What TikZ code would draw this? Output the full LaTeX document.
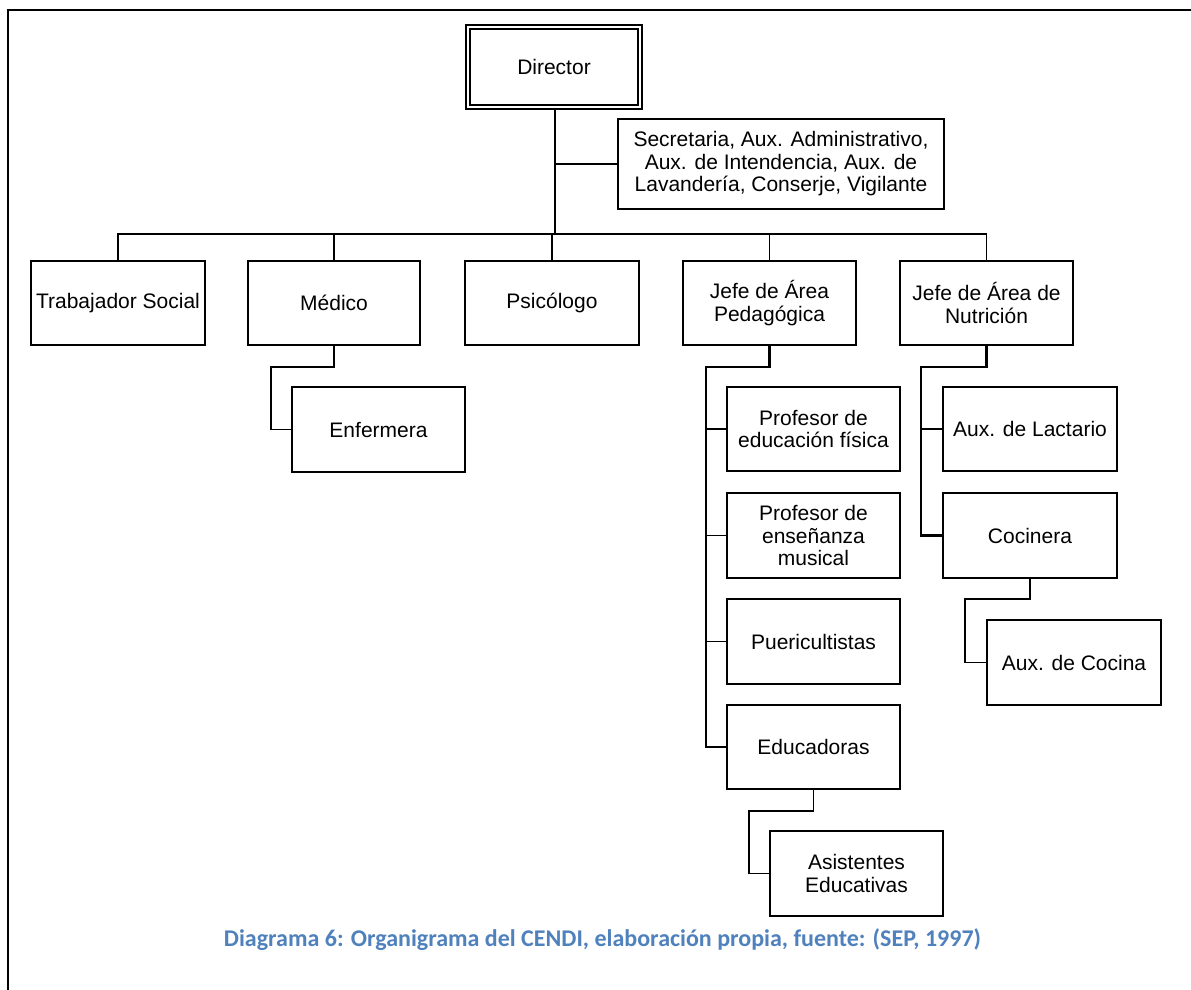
\documentclass[tikz,border=0pt]{standalone}
\usepackage{fontspec}
\setmainfont{Liberation Sans}
\newfontfamily\capfont{Carlito}
\usetikzlibrary{calc}
\definecolor{capblue}{RGB}{79,129,189}
\tikzset{
  box/.style={draw, line width=1.5pt, align=center, inner sep=2pt,
    font=\fontsize{21}{22.5}\selectfont, minimum width=173pt, minimum height=84pt},
  conn/.style={line width=1.7pt},
  spine/.style={line width=2.2pt},
}
\begin{document}
\begin{tikzpicture}[x=1pt,y=-1pt]
\useasboundingbox (0,0) rectangle (1191,990);
% frame
\draw[line width=1.5pt] (8,990) -- (8,10) -- (1191,10);

% nodes
\node[box, line width=1.2pt, minimum width=176pt, minimum height=84pt] (dir) at (554,67) {Director};
\draw[line width=2pt] ($(dir.south west)+(5,-5)$) rectangle ($(dir.north east)+(-5,5)$);
\node[box, minimum width=326pt, minimum height=90pt] (sec) at (781,164)
  {Secretaria, Aux. Administrativo,\\Aux. de Intendencia, Aux. de\\Lavandería, Conserje, Vigilante};

\node[box, minimum width=174pt] (ts) at (118,303) {Trabajador Social};
\node[box, minimum width=172pt] (med) at (334,303) {Médico};
\node[box, minimum width=174pt] (psi) at (552,303) {Psicólogo};
\node[box] (jp) at (769.5,303) {Jefe de Área\\Pedagógica};
\node[box] (jn) at (986.5,303) {Jefe de Área de\\Nutrición};

\node[box, minimum height=85pt] (enf) at (378.5,429.5) {Enfermera};

\node[box] (pef) at (813.5,429) {Profesor de\\educación física};
\node[box, minimum height=85pt] (pem) at (813.5,535.5) {Profesor de\\enseñanza\\musical};
\node[box, minimum height=85pt] (pue) at (813.5,641.5) {Puericultistas};
\node[box] (edu) at (813.5,747) {Educadoras};
\node[box, minimum height=85pt] (asi) at (856.5,873.5) {Asistentes\\Educativas};

\node[box, minimum width=174pt] (lac) at (1030,429) {Aux. de Lactario};
\node[box, minimum width=174pt, minimum height=85pt] (coc) at (1030,535.5) {Cocinera};
\node[box, minimum width=174pt, minimum height=85pt] (auc) at (1074,662.5) {Aux. de Cocina};

% coordinates
\coordinate (bus) at (555,234);
\coordinate (trunktop) at (555,109);
\coordinate (mspine) at (271,367);
\coordinate (pspine) at (706,367);
\coordinate (nspine) at (921,367);
\coordinate (cspine) at (965,599);
\coordinate (espine) at (749,811);

% connectors
\draw[line width=2.6pt] (trunktop) -- (bus);
\draw[conn] (sec.west) -- (sec.west -| bus);
\draw[conn] (ts.north) |- (bus);
\draw[conn] (med.north) |- (bus);
\draw[conn] (psi.north) |- (bus);
\draw[conn] (jp.north) |- (bus);
\draw[conn] (jn.north) |- (bus);

\draw[conn] (med.south) |- (mspine) |- (enf.west);

\draw[spine] (jp.south) |- (pspine) |- (edu.west);
\draw[conn] (pef.west) -- (pef.west -| pspine);
\draw[conn] (pem.west) -- (pem.west -| pspine);
\draw[conn] (pue.west) -- (pue.west -| pspine);
\draw[conn] (edu.south) |- (espine) |- (asi.west);

\draw[spine] (jn.south) |- (nspine) |- (coc.west);
\draw[conn] (lac.west) -- (lac.west -| nspine);
\draw[conn] (coc.south) |- (cspine) |- (auc.west);

% caption
\node[anchor=base, text=capblue, font=\capfont\bfseries\fontsize{24}{28}\selectfont] (cap) at (602.5,946)
  {Diagrama 6: Organigrama del CENDI, elaboración propia, fuente: (SEP, 1997)};
\end{tikzpicture}
\end{document}
